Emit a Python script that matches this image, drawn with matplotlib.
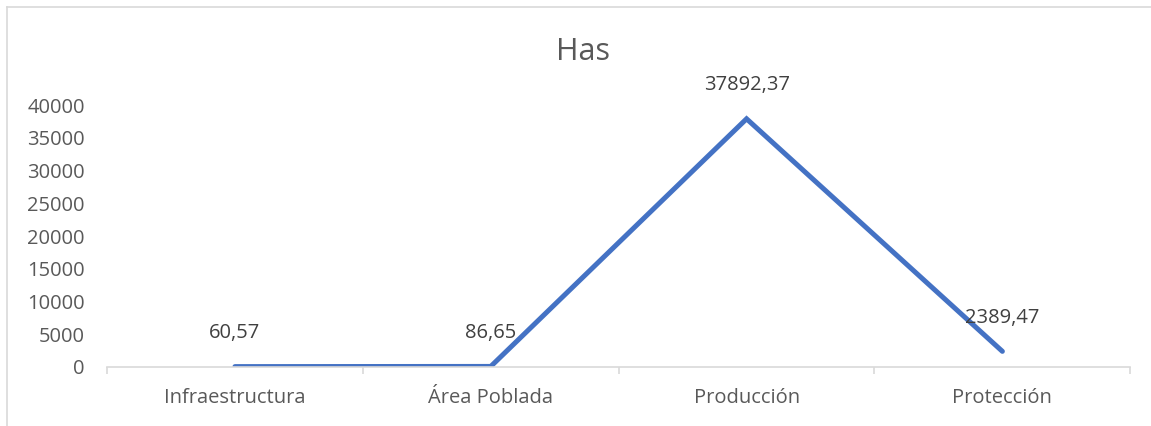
import matplotlib.pyplot as plt
from matplotlib.lines import Line2D

plt.rcParams['font.family'] = ['Open Sans', 'DejaVu Sans']

categorias = ['Infraestructura', 'Área Poblada', 'Producción', 'Protección']
has = [60.57, 86.65, 37892.37, 2389.47]
etiquetas = ['60,57', '86,65', '37892,37', '2389,47']
yticks = [0, 5000, 10000, 15000, 20000, 25000, 30000, 35000, 40000]

gris = '#595959'
fig = plt.figure(figsize=(11.51, 4.26), dpi=100)
ax = fig.add_axes([0.093, 0.1385, 0.889, 0.615])

x = list(range(len(categorias)))
ax.plot(x, has, color='#4472C4', linewidth=3.6, solid_capstyle='round', solid_joinstyle='miter')

for xi, v, t in zip(x, has, etiquetas):
    ax.annotate(t, (xi, v), xytext=(0, 24), textcoords='offset points',
                ha='center', va='center', fontsize=14.5, color='#404040')

ax.set_xlim(-0.5, len(categorias) - 0.5)
ax.set_ylim(0, 40000)
ax.set_yticks(yticks)
ax.set_yticklabels([str(v) for v in yticks])
ax.set_xticks(x)
ax.set_xticklabels(categorias)
ax.set_xticks([i - 0.5 for i in range(len(categorias) + 1)], minor=True)

ax.tick_params(axis='y', length=0, labelsize=14.5, labelcolor=gris, pad=16)
ax.tick_params(axis='x', which='major', length=0, labelsize=14.5, labelcolor=gris, pad=15)
ax.tick_params(axis='x', which='minor', length=5, width=1.2, color='#D9D9D9')

for s in ['top', 'right', 'left']:
    ax.spines[s].set_visible(False)
ax.spines['bottom'].set_color('#D9D9D9')
ax.spines['bottom'].set_linewidth(1.2)

fig.text(0.5065, 1 - 52 / 426, 'Has', ha='center', va='center', fontsize=22, color=gris)

# borde del área del gráfico (arriba e izquierda)
fig.add_artist(Line2D([7 / 1151, 1], [1 - 7 / 426, 1 - 7 / 426], transform=fig.transFigure, color='#D9D9D9', linewidth=1.2))
fig.add_artist(Line2D([7 / 1151, 7 / 1151], [0, 1 - 7 / 426], transform=fig.transFigure, color='#D9D9D9', linewidth=1.2))

fig.savefig('out.png', dpi=100)
